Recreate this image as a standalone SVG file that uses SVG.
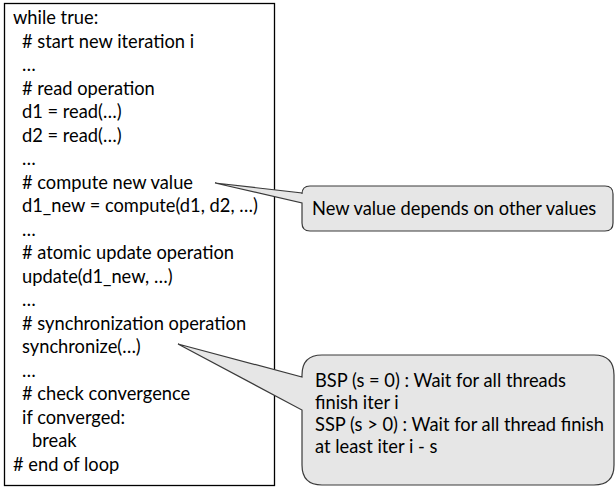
<svg xmlns="http://www.w3.org/2000/svg" width="616" height="488" viewBox="0 0 616 488">
<style>
text{font-family:Lato,"Liberation Sans",sans-serif;font-size:18.3px;fill:#000}
.box{fill:#fff;stroke:#000;stroke-width:1.3}
.call{fill:#e6e6e6;stroke:#3a3a3a;stroke-width:1.2;stroke-linejoin:miter}
</style>
<rect width="616" height="488" fill="#fff"/>
<g id="code">
<rect class="box" x="4.5" y="3.5" width="270" height="482"/>
<text x="13" y="24">while true:</text>
<text x="22" y="47.5"># start new iteration i</text>
<text x="22" y="71">…</text>
<text x="22" y="94.5"># read operation</text>
<text x="22" y="118">d1 = read(…)</text>
<text x="22" y="141.5">d2 = read(…)</text>
<text x="22" y="165">…</text>
<text x="22" y="188.5"># compute new value</text>
<text x="22" y="212">d1_new = compute(d1, d2, …)</text>
<text x="22" y="235.5">…</text>
<text x="22" y="259"># atomic update operation</text>
<text x="22" y="282.5">update(d1_new, …)</text>
<text x="22" y="306">…</text>
<text x="22" y="329.5"># synchronization operation</text>
<text x="22" y="353">synchronize(…)</text>
<text x="22" y="376.5">…</text>
<text x="22" y="400"># check convergence</text>
<text x="22" y="423.5">if converged:</text>
<text x="32" y="447">break</text>
<text x="13" y="470.5"># end of loop</text>
</g>
<g id="callout1">
<path class="call" d="M310,186 H605 Q613,186 613,194 V223 Q613,231 605,231 H310 Q302,231 302,223 V203 L215,183 L302,193 V194 Q302,186 310,186 Z"/>
<text x="312" y="215">New value depends on other values</text>
</g>
<g id="callout2">
<path class="call" d="M322,355 H594 Q614,355 614,375 V465 Q614,485 594,485 H322 Q302,485 302,465 V410 L178,344 L302,377 V375 Q302,355 322,355 Z"/>
<text x="315" y="387">BSP (s = 0) : Wait for all threads</text>
<text x="315" y="409">finish iter i</text>
<text x="315" y="431">SSP (s &gt; 0) : Wait for all thread finish</text>
<text x="315" y="453">at least iter i - s</text>
</g>
</svg>
